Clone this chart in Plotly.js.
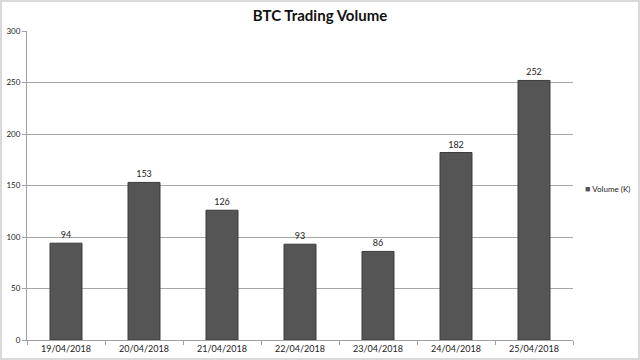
<!DOCTYPE html>
<html><head><meta charset="utf-8">
<script src="https://cdn.plot.ly/plotly-3.0.1.min.js"></script>
<style>html,body{margin:0;padding:0;background:#fff}#c{width:640px;height:360px;position:relative}#b{position:absolute;left:0;top:0;width:636px;height:356px;border:2px solid #d9d9d9;pointer-events:none}</style>
</head><body><div id="c"></div><div id="b"></div>
<script>
const dates = ['19/04/2018','20/04/2018','21/04/2018','22/04/2018','23/04/2018','24/04/2018','25/04/2018'];
const volume = [94,153,126,93,86,182,252];
const seriesName = 'Volume (K)';
const yTicks = [0,50,100,150,200,250,300];
const F = 'Lato, Open Sans, sans-serif';

Plotly.newPlot('c', [{
  type:'bar', x:dates, y:volume, name:seriesName,
  marker:{color:'#555555', line:{color:'#3a3a3a', width:1}},
  text:volume.map(String), textposition:'outside', cliponaxis:false,
  textfont:{family:F, size:9, color:'#222'}
}], {
  width:640, height:360,
  margin:{l:27, r:67, t:31, b:20},
  paper_bgcolor:'#fff', plot_bgcolor:'#fff',
  title:{text:'<b>BTC Trading Volume</b>', x:0.5, xanchor:'center', y:0.955, yanchor:'middle',
    font:{family:F, size:15, color:'#111'}},
  bargap:0.59,
  showlegend:false,
  annotations:[{xref:'paper', yref:'paper', x:1.018, xanchor:'left', y:0.49, yanchor:'middle', showarrow:false,
    text:'<span style="color:#555555;font-size:9px">■</span> ' + seriesName, font:{family:F, size:8, color:'#222'}}],
  xaxis:{type:'category', showline:true, linecolor:'#a0a0a0', linewidth:1, ticks:'outside', tickson:'boundaries', ticklen:4, tickcolor:'#a0a0a0',
    tickfont:{family:F, size:9, color:'#222'}, showgrid:false},
  yaxis:{range:[0,300], tickvals:yTicks, showline:true, linecolor:'#a0a0a0', linewidth:1, ticks:'outside', ticklen:4, tickcolor:'#a0a0a0',
    gridcolor:'#a6a6a6', gridwidth:1, zeroline:false,
    tickfont:{family:F, size:8, color:'#222'}}
}, {displayModeBar:false, staticPlot:true});
</script></body></html>
